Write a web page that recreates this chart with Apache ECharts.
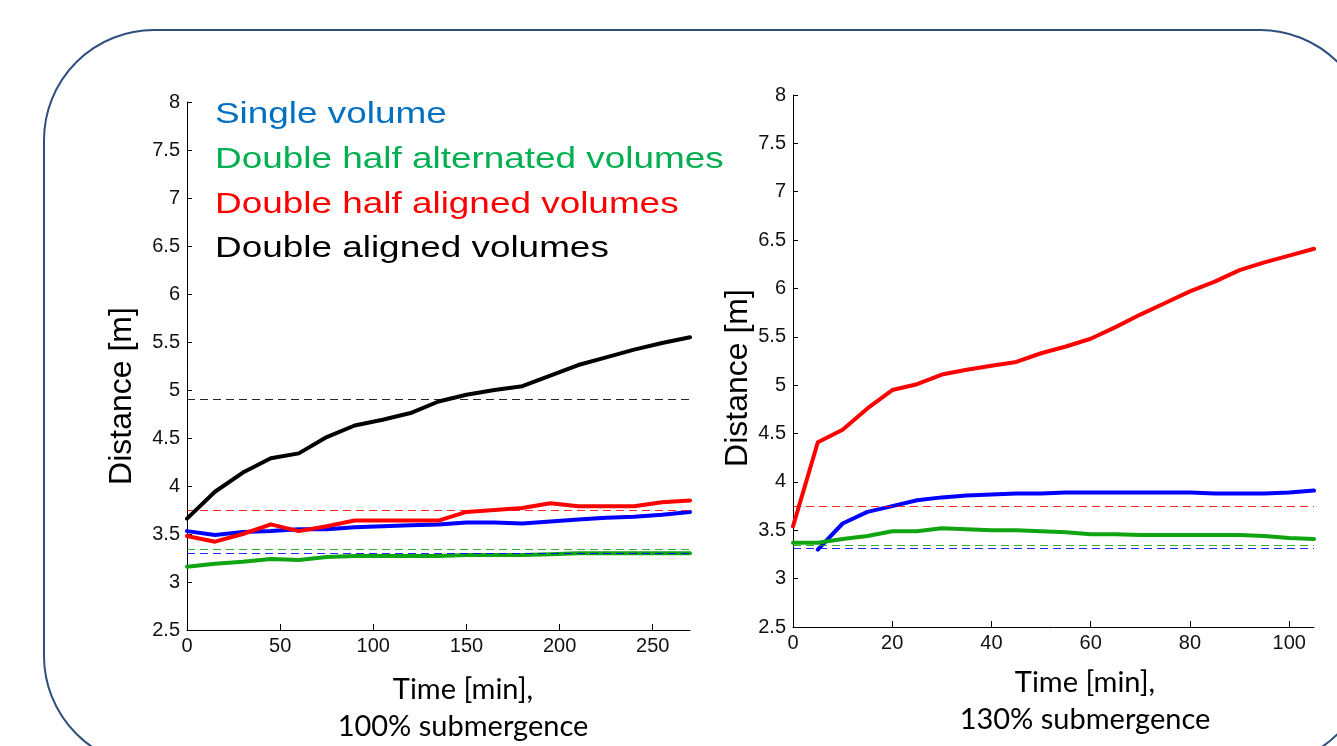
<!DOCTYPE html>
<html>
<head>
<meta charset="utf-8">
<script src="https://cdn.jsdelivr.net/npm/echarts@6/dist/echarts.min.js"></script>
<style>html,body{margin:0;padding:0;background:#fff;}#c{width:1337px;height:746px;}</style>
</head>
<body>
<div id="c"></div>
<script>
// ---- data ----
const seriesNames = ['Single volume', 'Double half alternated volumes', 'Double half aligned volumes', 'Double aligned volumes'];
const legendColors = ['#0070c0', '#00b050', '#ff0000', '#000000'];
const lineColors = ['#0000ff', '#10a510', '#ff0000', '#000000'];

// Left panel: 100% submergence (time in minutes)
const leftTimes = [0, 15, 30, 45, 60, 75, 90, 105, 120, 135, 150, 165, 180, 195, 210, 225, 240, 255, 270];
const leftSingle = [3.53, 3.49, 3.52, 3.53, 3.55, 3.55, 3.57, 3.58, 3.59, 3.60, 3.62, 3.62, 3.61, 3.63, 3.65, 3.67, 3.68, 3.70, 3.73];
const leftAlternated = [3.16, 3.19, 3.21, 3.24, 3.23, 3.26, 3.27, 3.27, 3.27, 3.27, 3.28, 3.28, 3.28, 3.29, 3.30, 3.30, 3.30, 3.30, 3.30];
const leftHalfAligned = [3.48, 3.42, 3.50, 3.60, 3.53, 3.58, 3.64, 3.64, 3.64, 3.64, 3.73, 3.75, 3.77, 3.82, 3.79, 3.79, 3.79, 3.83, 3.85];
const leftAligned = [3.66, 3.94, 4.14, 4.29, 4.34, 4.51, 4.63, 4.69, 4.76, 4.88, 4.95, 5.00, 5.04, 5.15, 5.26, 5.34, 5.42, 5.49, 5.55];
const leftRefLines = [3.30, 3.34, 3.75, 4.90]; // single, alternated, half aligned, aligned

// Right panel: 130% submergence
const rightTimes = [0, 5, 10, 15, 20, 25, 30, 35, 40, 45, 50, 55, 60, 65, 70, 75, 80, 85, 90, 95, 100, 105];
const rightSingle = [null, 3.30, 3.57, 3.69, 3.75, 3.81, 3.84, 3.86, 3.87, 3.88, 3.88, 3.89, 3.89, 3.89, 3.89, 3.89, 3.89, 3.88, 3.88, 3.88, 3.89, 3.91];
const rightAlternated = [3.37, 3.37, 3.41, 3.44, 3.49, 3.49, 3.52, 3.51, 3.50, 3.50, 3.49, 3.48, 3.46, 3.46, 3.45, 3.45, 3.45, 3.45, 3.45, 3.44, 3.42, 3.41];
const rightHalfAligned = [3.54, 4.41, 4.54, 4.76, 4.95, 5.01, 5.11, 5.16, 5.20, 5.24, 5.33, 5.40, 5.48, 5.60, 5.73, 5.85, 5.97, 6.07, 6.19, 6.27, 6.34, 6.41];
const rightRefLines = [3.31, 3.35, 3.75]; // single, alternated, half aligned

const yTicks = ['2.5', '3', '3.5', '4', '4.5', '5', '5.5', '6', '6.5', '7', '7.5', '8'];
const leftXTitle = ['Time [min],', '100% submergence'];
const rightXTitle = ['Time [min],', '130% submergence'];
const yTitle = 'Distance [m]';

// ---- chart ----
const chart = echarts.init(document.getElementById('c'), null, {renderer: 'canvas'});
const pair = (ts, vs) => ts.map((t, i) => [t, vs[i]]);

function lineSeries(idx, gridIdx, ts, vs, ref) {
  return {
    type: 'line', name: seriesNames[idx], xAxisIndex: gridIdx, yAxisIndex: gridIdx,
    data: pair(ts, vs), showSymbol: false, symbol: 'none', connectNulls: false,
    lineStyle: {color: lineColors[idx], width: 4, cap: 'round', join: 'round'},
    itemStyle: {color: lineColors[idx]},
    z: 3 + idx, silent: true,
    markLine: {
      silent: true, symbol: ['none', 'none'], label: {show: false},
      lineStyle: {color: lineColors[idx], type: [8, 5], width: 1, opacity: 0.85},
      data: [{yAxis: ref}]
    }
  };
}

const yMin = parseFloat(yTicks[0]), yMax = parseFloat(yTicks[yTicks.length - 1]);
function yAxisCfg(gridIdx, gap, shift) {
  return {
    type: 'value', gridIndex: gridIdx, min: yMin, max: yMax, interval: 0.5,
    name: yTitle, nameLocation: 'middle', nameGap: gap, nameRotate: 90,
    nameTextStyle: {fontFamily: 'Liberation Sans', fontSize: 32, color: '#000', padding: [0, shift, 0, 0]},
    axisLine: {show: true, lineStyle: {color: '#000', width: 1}},
    axisTick: {show: true, inside: true, length: 5, lineStyle: {color: '#000'}},
    axisLabel: {fontFamily: 'Liberation Sans', fontSize: 20, color: '#111', margin: 7},
    splitLine: {show: false}
  };
}
function xAxisCfg(gridIdx, max, interval) {
  return {
    type: 'value', gridIndex: gridIdx, min: 0, max: max, interval: interval,
    axisLine: {show: true, onZero: false, lineStyle: {color: '#000', width: 1}},
    axisTick: {show: true, inside: true, length: 6, lineStyle: {color: '#000'}},
    axisLabel: {fontFamily: 'Liberation Sans', fontSize: 20, color: '#111', margin: 6, showMaxLabel: false},
    splitLine: {show: false}
  };
}

function titleText(lines, cx, y0) {
  return lines.map((s, i) => ({
    type: 'text', silent: true,
    x: cx, y: y0 + i * 37,
    style: {text: s, fill: '#000', font: '29px Lato, "Open Sans", sans-serif', textAlign: 'center', textVerticalAlign: 'middle'}
  }));
}

const legendGroup = {
  type: 'group', silent: true, x: 215, y: 115, scaleX: 1.23,
  children: seriesNames.map((n, i) => ({
    type: 'text', x: 0, y: i * 44.7,
    style: {text: n, fill: legendColors[i], font: '30px "Liberation Sans", Arial, sans-serif', textAlign: 'left', textVerticalAlign: 'middle'}
  }))
};

const option = {
  animation: false,
  backgroundColor: '#fff',
  grid: [
    {left: 187, right: 647, top: 102, bottom: 116},
    {left: 793, right: 23, top: 95, bottom: 119}
  ],
  xAxis: [xAxisCfg(0, 270, 50), xAxisCfg(1, 105, 20)],
  yAxis: [yAxisCfg(0, 49, 60), yAxisCfg(1, 35, 34)],
  graphic: [
    {type: 'rect', silent: true, z: -1,
      shape: {x: 44, y: 30, width: 1326, height: 736, r: 110},
      style: {fill: 'none', stroke: '#2f4f7e', lineWidth: 2}},
    legendGroup
  ].concat(titleText(leftXTitle, 463, 690), titleText(rightXTitle, 1085, 683)),
  series: [
    lineSeries(0, 0, leftTimes, leftSingle, leftRefLines[0]),
    lineSeries(1, 0, leftTimes, leftAlternated, leftRefLines[1]),
    lineSeries(2, 0, leftTimes, leftHalfAligned, leftRefLines[2]),
    lineSeries(3, 0, leftTimes, leftAligned, leftRefLines[3]),
    lineSeries(0, 1, rightTimes, rightSingle, rightRefLines[0]),
    lineSeries(1, 1, rightTimes, rightAlternated, rightRefLines[1]),
    lineSeries(2, 1, rightTimes, rightHalfAligned, rightRefLines[2])
  ]
};
chart.setOption(option);
</script>
</body>
</html>
